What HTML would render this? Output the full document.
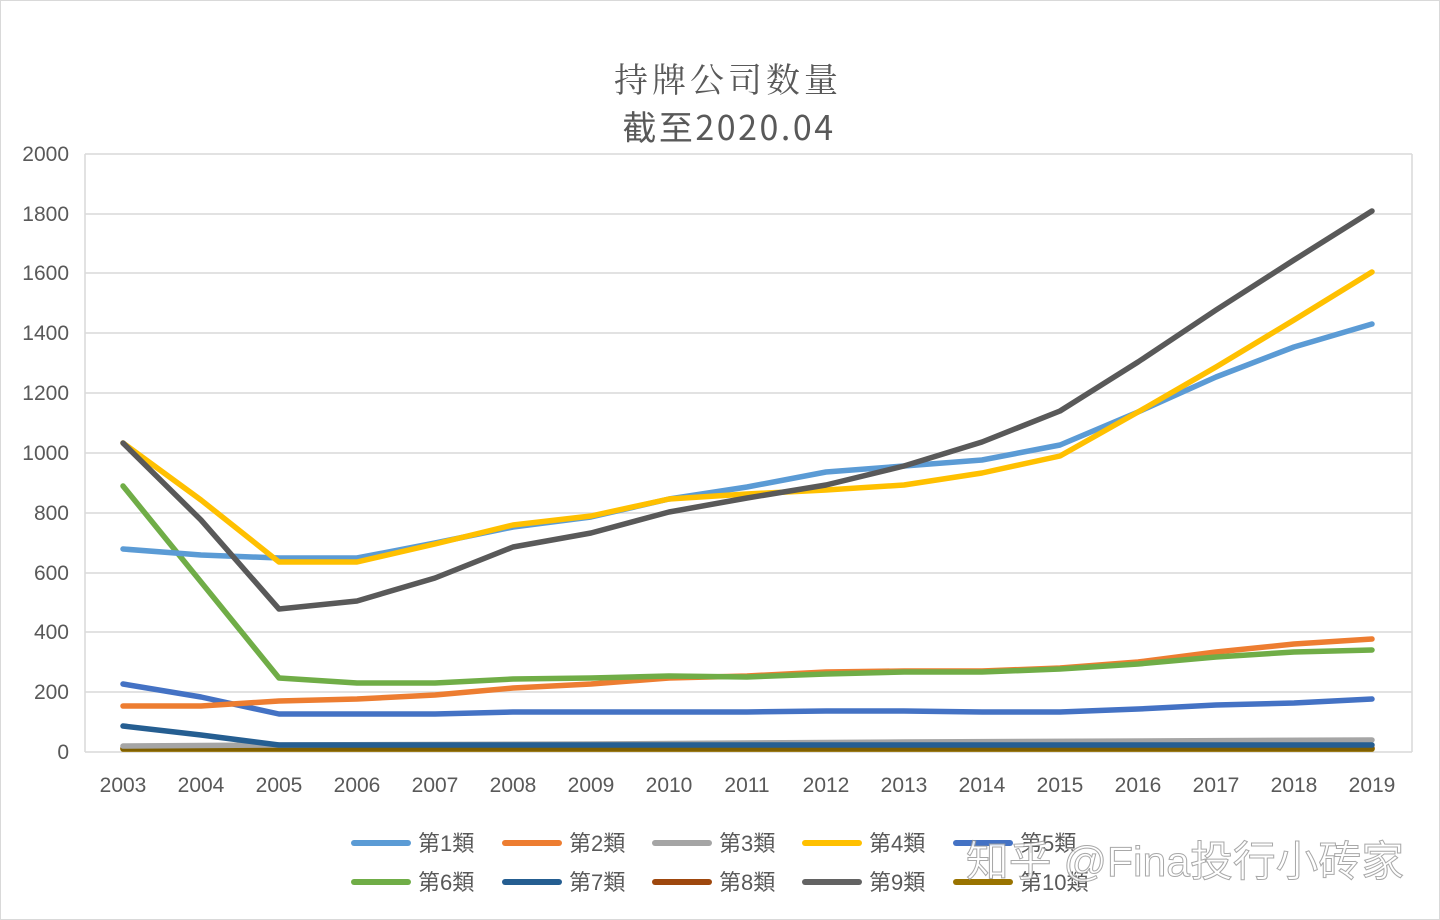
<!DOCTYPE html>
<html><head><meta charset="utf-8"><style>
body{margin:0;background:#fff;}
svg{display:block;font-family:"Liberation Sans","Noto Sans CJK SC",sans-serif;}
</style></head><body>
<svg width="1440" height="920" viewBox="0 0 1440 920">
<rect x="0.5" y="0.5" width="1439" height="919" fill="#fff" stroke="#d9d9d9"/>
<text x="728" y="92" text-anchor="middle" font-size="34" fill="#595959" font-family="'Noto Serif CJK SC',serif" letter-spacing="4">持牌公司数量</text>
<text x="729" y="140" text-anchor="middle" font-size="34" fill="#595959" font-family="'Noto Sans CJK SC',sans-serif" letter-spacing="2.5">截至2020.04</text>
<g stroke="#d9d9d9" stroke-width="1.5">
<line x1="85" y1="154" x2="1412" y2="154"/><line x1="85" y1="214" x2="1412" y2="214"/><line x1="85" y1="273" x2="1412" y2="273"/><line x1="85" y1="333" x2="1412" y2="333"/><line x1="85" y1="393" x2="1412" y2="393"/><line x1="85" y1="453" x2="1412" y2="453"/><line x1="85" y1="513" x2="1412" y2="513"/><line x1="85" y1="573" x2="1412" y2="573"/><line x1="85" y1="632" x2="1412" y2="632"/><line x1="85" y1="692" x2="1412" y2="692"/><line x1="85" y1="752" x2="1412" y2="752"/>
<line x1="85" y1="154" x2="85" y2="752"/><line x1="1412" y1="154" x2="1412" y2="752"/>
</g>
<g font-size="21" fill="#595959" text-anchor="end">
<text x="69" y="161">2000</text><text x="69" y="221">1800</text><text x="69" y="280">1600</text><text x="69" y="340">1400</text><text x="69" y="400">1200</text><text x="69" y="460">1000</text><text x="69" y="520">800</text><text x="69" y="580">600</text><text x="69" y="639">400</text><text x="69" y="699">200</text><text x="69" y="759">0</text>
</g>
<g font-size="21" fill="#595959" text-anchor="middle">
<text x="123" y="792">2003</text><text x="201" y="792">2004</text><text x="279" y="792">2005</text><text x="357" y="792">2006</text><text x="435" y="792">2007</text><text x="513" y="792">2008</text><text x="591" y="792">2009</text><text x="669" y="792">2010</text><text x="747" y="792">2011</text><text x="826" y="792">2012</text><text x="904" y="792">2013</text><text x="982" y="792">2014</text><text x="1060" y="792">2015</text><text x="1138" y="792">2016</text><text x="1216" y="792">2017</text><text x="1294" y="792">2018</text><text x="1372" y="792">2019</text>
</g>
<g fill="none" stroke-width="5.5" stroke-linejoin="round" stroke-linecap="round">
<polyline stroke="#ffc000" points="123,749 1372,749"/>
<polyline stroke="#9e480e" points="123,748 1372,748"/>
<polyline stroke="#806000" points="123,749 1372,749"/>
<polyline stroke="#a5a5a5" points="123,746 279,745 591,744 904,742 1372,740"/>
<polyline stroke="#255e91" points="123,726 201,735 279,745 1372,745"/>
<polyline stroke="#4472c4" points="123,684 201,697 279,714 357,714 435,714 513,712 591,712 669,712 747,712 826,711 904,711 982,712 1060,712 1138,709 1216,705 1294,703 1372,699"/>
<polyline stroke="#ed7d31" points="123,706 201,706 279,701 357,699 435,695 513,688 591,684 669,678 747,676 826,672 904,671 982,671 1060,668 1138,662 1216,652 1294,644 1372,639"/>
<polyline stroke="#70ad47" points="123,486 201,582 279,678 357,683 435,683 513,679 591,678 669,676 747,677 826,674 904,672 982,672 1060,669 1138,664 1216,657 1294,652 1372,650"/>
<polyline stroke="#5b9bd5" points="123,549 201,555 279,558 357,558 435,543 513,527 591,517 669,499 747,487 826,472 904,466 982,460 1060,445 1138,412 1216,377 1294,347 1372,324"/>
<polyline stroke="#ffc000" points="123,443 201,500 279,562 357,562 435,544 513,525 591,516 669,499 747,494 826,490 904,485 982,473 1060,456 1138,412 1216,367 1294,320 1372,272"/>
<polyline stroke="#595959" points="123,443 201,520 279,609 357,601 435,578 513,547 591,533 669,512 747,498 826,485 904,466 982,442 1060,411 1138,362 1216,310 1294,260 1372,211"/>
</g>
<g stroke-width="6" stroke-linecap="round">
<line x1="354" y1="843" x2="408" y2="843" stroke="#5b9bd5"/>
<line x1="505" y1="843" x2="559" y2="843" stroke="#ed7d31"/>
<line x1="655" y1="843" x2="709" y2="843" stroke="#a5a5a5"/>
<line x1="805" y1="843" x2="859" y2="843" stroke="#ffc000"/>
<line x1="956" y1="843" x2="1010" y2="843" stroke="#4472c4"/>
<line x1="354" y1="882" x2="408" y2="882" stroke="#70ad47"/>
<line x1="505" y1="882" x2="559" y2="882" stroke="#255e91"/>
<line x1="655" y1="882" x2="709" y2="882" stroke="#9e480e"/>
<line x1="805" y1="882" x2="859" y2="882" stroke="#636363"/>
<line x1="956" y1="882" x2="1010" y2="882" stroke="#997300"/>
</g>
<g font-size="22" fill="#595959">
<text x="418" y="851">第1類</text><text x="569" y="851">第2類</text><text x="719" y="851">第3類</text><text x="869" y="851">第4類</text><text x="1020" y="851">第5類</text>
<text x="418" y="890">第6類</text><text x="569" y="890">第7類</text><text x="719" y="890">第8類</text><text x="869" y="890">第9類</text><text x="1020" y="890">第10類</text>
</g>
<text x="966" y="876" font-size="42" fill="#ffffff" stroke="#9a9a9a" stroke-width="1" opacity="0.85" textLength="438" lengthAdjust="spacingAndGlyphs">知乎 @Fina投行小砖家</text>
</svg>
</body></html>
